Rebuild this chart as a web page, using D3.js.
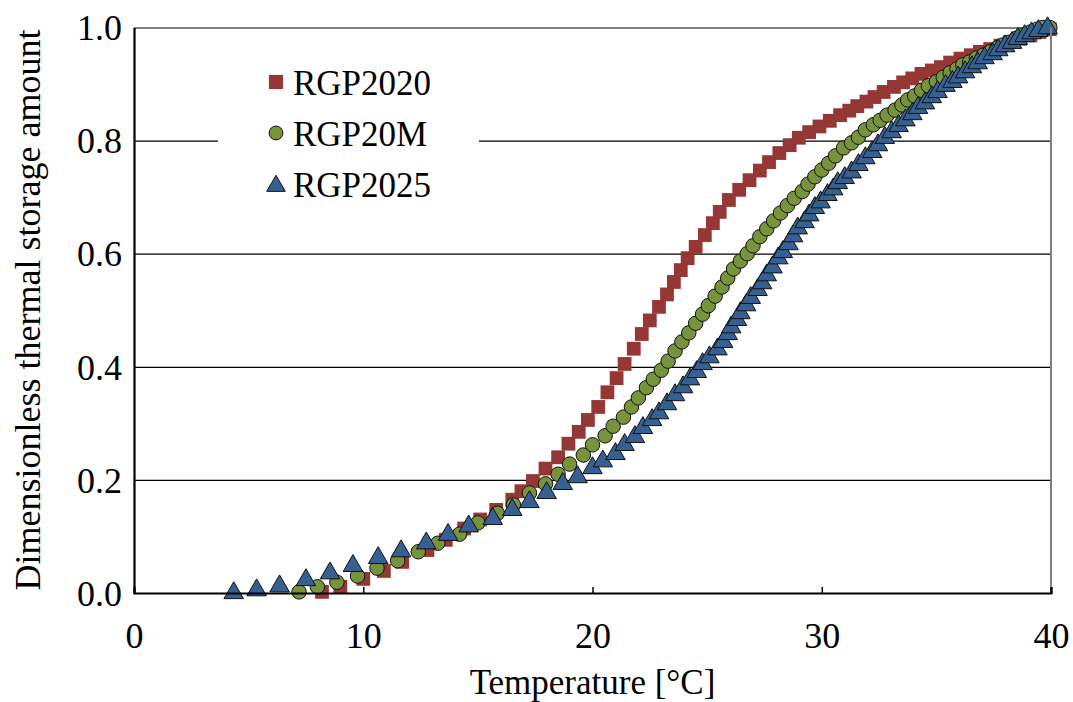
<!DOCTYPE html>
<html>
<head>
<meta charset="utf-8">
<script src="https://cdn.jsdelivr.net/npm/d3@7"></script>
<style>
  body { margin: 0; background: #fff; }
  svg text { font-family: "Liberation Serif", "Times New Roman", serif !important; fill: #000; }
</style>
</head>
<body>
<svg id="chart" width="1073" height="702" font-family="Liberation Serif, serif"></svg>
<script>
//  values (temperature in degC, dimensionless amount)
const rgp2020T = [8.2, 9.0, 10.0, 10.9, 11.7, 12.8, 13.6, 14.4, 15.1, 15.8, 16.5, 16.9, 17.4, 17.95, 18.5, 18.95,
    19.4, 19.8, 20.25, 20.65, 21.05, 21.4, 21.8, 22.15, 22.5, 22.9, 23.25, 23.55, 23.85, 24.15, 24.5, 24.9, 25.25,
    25.55, 25.95, 26.4, 26.85, 27.3, 27.7, 28.15, 28.6, 29.0, 29.45, 29.9, 30.35, 30.8, 31.2, 31.55, 31.95, 32.3, 32.7,
    33.15, 33.55, 33.95, 34.35, 34.8, 35.2, 35.6, 36.05, 36.5, 36.9, 37.35, 37.8, 38.2, 38.65, 39.1, 39.5, 39.95];
const rgp2020V = [0.002, 0.011, 0.025, 0.039, 0.055, 0.076, 0.094, 0.114, 0.130, 0.147, 0.165, 0.180, 0.198, 0.220,
    0.240, 0.264, 0.285, 0.306, 0.329, 0.355, 0.380, 0.405, 0.432, 0.458, 0.482, 0.506, 0.528, 0.550, 0.571, 0.592,
    0.612, 0.633, 0.654, 0.674, 0.695, 0.713, 0.730, 0.747, 0.762, 0.778, 0.792, 0.805, 0.815, 0.825, 0.835, 0.845,
    0.853, 0.861, 0.869, 0.877, 0.886, 0.895, 0.903, 0.910, 0.918, 0.924, 0.930, 0.938, 0.945, 0.951, 0.957, 0.962,
    0.968, 0.974, 0.980, 0.986, 0.992, 0.997];

const rgp20mT = [7.2, 8.0, 8.85, 9.75, 10.6, 11.5, 12.4, 13.25, 14.2, 15.0, 15.85, 16.55, 17.25, 17.95, 18.5, 19.0,
    19.6, 20.0, 20.55, 20.9, 21.35, 21.7, 22.0, 22.35, 22.65, 23.0, 23.3, 23.6, 23.9, 24.2, 24.5, 24.8, 25.05, 25.35,
    25.65, 25.9, 26.15, 26.45, 26.75, 27.0, 27.3, 27.6, 27.9, 28.2, 28.5, 28.8, 29.15, 29.4, 29.7, 30.0, 30.3, 30.6,
    30.95, 31.3, 31.6, 31.9, 32.25, 32.55, 32.85, 33.2, 33.5, 33.75, 34.05, 34.35, 34.65, 35.0, 35.3, 35.6, 35.9,
    36.15, 36.45, 36.75, 37.05, 37.35, 37.65, 37.9, 38.2, 38.5, 38.8, 39.1, 39.4, 39.65, 39.95];
const rgp20mV = [0.002, 0.011, 0.019, 0.030, 0.044, 0.057, 0.073, 0.088, 0.104, 0.124, 0.141, 0.156, 0.177, 0.193,
    0.210, 0.228, 0.244, 0.262, 0.278, 0.295, 0.311, 0.329, 0.345, 0.363, 0.378, 0.394, 0.410, 0.428, 0.444, 0.460,
    0.477, 0.493, 0.508, 0.525, 0.541, 0.557, 0.573, 0.587, 0.600, 0.614, 0.630, 0.644, 0.658, 0.672, 0.685, 0.698,
    0.710, 0.723, 0.736, 0.748, 0.760, 0.773, 0.787, 0.796, 0.806, 0.819, 0.828, 0.836, 0.845, 0.854, 0.863, 0.872,
    0.879, 0.889, 0.897, 0.904, 0.912, 0.920, 0.927, 0.934, 0.939, 0.946, 0.951, 0.957, 0.964, 0.969, 0.974, 0.981,
    0.987, 0.992, 0.997, 1.0, 1.0];

const rgp2025T = [4.35, 5.35, 6.35, 7.5, 8.55, 9.55, 10.65, 11.65, 12.75, 13.7, 14.6, 15.65, 16.5, 17.25, 18.0, 18.7,
    19.35, 20.0, 20.45, 21.0, 21.4, 21.85, 22.2, 22.6, 22.9, 23.25, 23.6, 23.95, 24.25, 24.55, 24.8, 25.1, 25.45, 25.7,
    25.9, 26.05, 26.3, 26.45, 26.7, 26.9, 27.2, 27.4, 27.6, 27.85, 28.1, 28.3, 28.55, 28.75, 28.95, 29.25, 29.45, 29.7,
    29.95, 30.25, 30.5, 30.7, 31.0, 31.3, 31.6, 31.9, 32.2, 32.45, 32.75, 33.05, 33.35, 33.65, 33.95, 34.2, 34.5, 34.8,
    35.05, 35.4, 35.7, 35.95, 36.25, 36.55, 36.8, 37.1, 37.45, 37.7, 38.0, 38.3, 38.55, 38.85, 39.15, 39.45, 39.85];
const rgp2025V = [0.000, 0.005, 0.012, 0.023, 0.035, 0.048, 0.062, 0.074, 0.088, 0.103, 0.118, 0.131, 0.147, 0.161,
    0.177, 0.193, 0.205, 0.221, 0.233, 0.246, 0.262, 0.276, 0.292, 0.306, 0.318, 0.334, 0.350, 0.364, 0.378, 0.391,
    0.405, 0.417, 0.431, 0.444, 0.458, 0.470, 0.483, 0.495, 0.509, 0.522, 0.536, 0.548, 0.562, 0.576, 0.592, 0.603,
    0.617, 0.631, 0.645, 0.656, 0.668, 0.681, 0.691, 0.704, 0.714, 0.725, 0.734, 0.744, 0.757, 0.769, 0.780, 0.792,
    0.805, 0.815, 0.826, 0.836, 0.847, 0.858, 0.866, 0.877, 0.886, 0.897, 0.904, 0.912, 0.921, 0.930, 0.937, 0.946,
    0.953, 0.960, 0.967, 0.973, 0.980, 0.985, 0.990, 0.994, 0.999];

const seriesNames = ["RGP2020", "RGP20M", "RGP2025"];
const xTicks = [0, 10, 20, 30, 40];
const yTicks = [0, 0.2, 0.4, 0.6, 0.8, 1.0];

const serif = "'Liberation Serif', 'Times New Roman', serif";

const chart = {
    left: 134,
    right: 1051,
    top: 27.5,
    bottom: 593,
    font: 36,

    draw: function () {
        const svg = d3.select("#chart");
        const x = d3.scaleLinear().domain([0, 40]).range([this.left, this.right]);
        const y = d3.scaleLinear().domain([0, 1]).range([this.bottom, this.top]);
        const plotW = this.right - this.left;

        //  horizontal gridlines
        const grid = svg.append("g").attr("transform", `translate(${this.left},0)`)
            .call(d3.axisLeft(y).tickValues(yTicks).tickSize(-plotW).tickFormat(""));
        grid.select(".domain").remove();
        grid.selectAll("line").attr("stroke", "#000").attr("stroke-width", 1.2);

        //  the three series: squares, circles, triangles (drawn in that order)
        const series = [
            {name: seriesNames[0], t: rgp2020T, v: rgp2020V, type: d3.symbolSquare, size: 190, fill: "#953735", stroke: "none"},
            {name: seriesNames[1], t: rgp20mT, v: rgp20mV, type: d3.symbolCircle, size: 165, fill: "#77933C", stroke: "#111"},
            {name: seriesNames[2], t: rgp2025T, v: rgp2025V, type: d3.symbolTriangle, size: 165, fill: "#376092", stroke: "#111"},
        ];

        series.forEach(s => {
            const pts = s.t.map((t, i) => ({t: t, v: s.v[i]}));
            svg.append("g").selectAll("path").data(pts).join("path")
                .attr("d", d3.symbol().type(s.type).size(s.size))
                .attr("transform", d => `translate(${x(d.t)},${y(d.v)})`)
                .attr("fill", s.fill)
                .attr("stroke", s.stroke)
                .attr("stroke-width", 1);
        });

        //  legend, on a white box that hides the 0.8 gridline
        svg.append("rect").attr("x", 218).attr("y", 52).attr("width", 261).attr("height", 160).attr("fill", "white");
        series.forEach((s, i) => {
            const cy = 82 + i * 51;
            svg.append("path")
                .attr("d", d3.symbol().type(s.type).size(i === 0 ? 200 : 150))
                .attr("transform", `translate(276,${cy + (i === 2 ? 2 : 0)})`)
                .attr("fill", s.fill).attr("stroke", s.stroke).attr("stroke-width", 1);
            svg.append("text").attr("x", 293).attr("y", cy + 13)
                .style("font-family", serif).style("font-size", "35px").text(s.name);
        });

        //  frame: right border grey, left and bottom axes black
        svg.append("line").attr("x1", this.right).attr("x2", this.right).attr("y1", this.top).attr("y2", this.bottom)
            .attr("stroke", "#808080").attr("stroke-width", 2);

        const xAxis = svg.append("g").attr("transform", `translate(0,${this.bottom})`)
            .call(d3.axisBottom(x).tickValues(xTicks).tickSize(-6).tickFormat(d3.format("d")))
            .attr("font-family", serif);
        xAxis.select(".domain").attr("stroke", "#000").attr("stroke-width", 2.2);
        xAxis.selectAll("line").attr("stroke", "#000").attr("stroke-width", 1.5);
        xAxis.selectAll("text").attr("y", 55).attr("dy", null)
            .style("font-size", this.font + "px").style("font-family", serif);

        const yAxis = svg.append("g").attr("transform", `translate(${this.left},0)`)
            .call(d3.axisLeft(y).tickValues(yTicks).tickSize(0).tickFormat(d3.format(".1f")))
            .attr("font-family", serif);
        yAxis.select(".domain").attr("stroke", "#000").attr("stroke-width", 2.2);
        yAxis.selectAll("text").attr("x", -12).attr("dy", "0.34em")
            .style("font-size", this.font + "px").style("font-family", serif);

        //  axis titles
        svg.append("text").attr("x", (this.left + this.right) / 2).attr("y", 694)
            .attr("text-anchor", "middle").style("font-family", serif).style("font-size", "35px")
            .text("Temperature [°C]");
        svg.append("text").attr("transform", "translate(40,310) rotate(-90)")
            .attr("text-anchor", "middle").style("font-family", serif).style("font-size", "36px")
            .text("Dimensionless thermal storage amount");
    },
};

chart.draw();
</script>
</body>
</html>
